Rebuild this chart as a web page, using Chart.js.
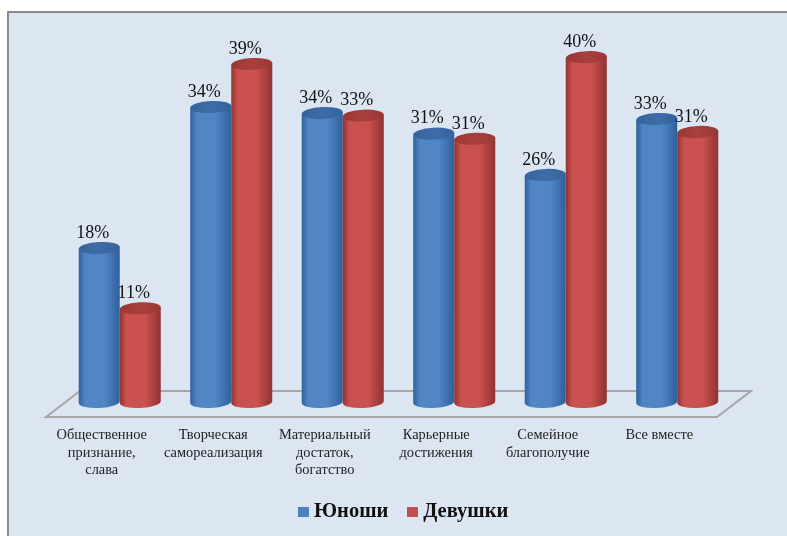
<!DOCTYPE html>
<html>
<head>
<meta charset="utf-8">
<style>
html, body { margin: 0; padding: 0; background: #fff; overflow: hidden; }
#wrap { position: relative; width: 787px; height: 536px; filter: blur(0.4px); }
#legend { position: absolute; left: 298px; top: 497px; height: 26px; white-space: nowrap;
    font: bold 20.5px/26px "Liberation Serif"; color: #111; }
#legend span { display: inline-block; }
#legend i { display: inline-block; width: 11px; height: 10px; margin-right: 5px; vertical-align: 0; }
#legend .item { margin-right: 19px; }
</style>
</head>
<body>
<div id="wrap">
    <canvas id="chart" width="787" height="536"></canvas>
    <div id="legend"></div>
</div>
<script src="https://cdn.jsdelivr.net/npm/chart.js@4"></script>
<script>
const categories = [
    ['Общественное', 'признание,', 'слава'],
    ['Творческая', 'самореализация'],
    ['Материальный', 'достаток,', 'богатство'],
    ['Карьерные', 'достижения'],
    ['Семейное', 'благополучие'],
    ['Все вместе']
];
// bar heights, the printed labels are rounded
const boys = [17.9, 34.3, 33.6, 31.2, 26.4, 32.9];
const girls = [10.9, 39.3, 33.3, 30.6, 40.1, 31.4];
const boysLabels = ['18%', '34%', '34%', '31%', '26%', '33%'];
const girlsLabels = ['11%', '39%', '33%', '31%', '40%', '31%'];
const seriesNames = ['Юноши', 'Девушки'];

const blue = { side: '#5086c6', dark: '#30609a', top: '#3d6da8', topDark: '#35639b', legend: '#4f81bd' };
const red = { side: '#ca514e', dark: '#8f3331', top: '#a9403d', topDark: '#983836', legend: '#c0504d' };

function cylinder(ctx, bar, c) {
    const w = bar.width, x0 = bar.x - w / 2, x1 = bar.x + w / 2;
    const rx = w / 2, ry = 6, tilt = -0.05;
    const dy = rx * Math.sin(tilt);
    const g = ctx.createLinearGradient(x0, 0, x1, 0);
    g.addColorStop(0, c.dark);
    g.addColorStop(0.16, c.side);
    g.addColorStop(0.62, c.side);
    g.addColorStop(1, c.dark);
    ctx.fillStyle = g;
    ctx.beginPath();
    ctx.moveTo(x0, bar.y - dy);
    ctx.lineTo(x0, bar.base - dy);
    ctx.ellipse(bar.x, bar.base, rx, ry, tilt, Math.PI, 0, true);
    ctx.lineTo(x1, bar.y + dy);
    ctx.closePath();
    ctx.fill();
    const t = ctx.createLinearGradient(x0, 0, x1, 0);
    t.addColorStop(0, c.topDark);
    t.addColorStop(0.5, c.top);
    t.addColorStop(1, c.topDark);
    ctx.fillStyle = t;
    ctx.beginPath();
    ctx.ellipse(bar.x, bar.y, rx, ry, tilt, 0, Math.PI * 2);
    ctx.fill();
}

const scenePlugin = {
    id: 'scene',
    beforeDraw(chart) {
        const ctx = chart.ctx;
        ctx.save();
        ctx.fillStyle = '#dce6f2';
        ctx.strokeStyle = '#8c8c8c';
        ctx.lineWidth = 2;
        ctx.fillRect(8, 12, 790, 540);
        ctx.strokeRect(8, 12, 790, 540);
        ctx.restore();
    },
    beforeDatasetsDraw(chart) {
        // floor of the 3d chart, placed from the scales
        const ctx = chart.ctx, area = chart.chartArea;
        const y0 = chart.scales.y.getPixelForValue(0);
        ctx.save();
        ctx.strokeStyle = '#a6a6a6';
        ctx.lineWidth = 2;
        ctx.beginPath();
        ctx.moveTo(area.left - 18, y0 + 15);
        ctx.lineTo(area.right - 16, y0 + 15);
        ctx.lineTo(area.right + 18, y0 - 11);
        ctx.lineTo(area.left + 16, y0 - 11);
        ctx.closePath();
        ctx.stroke();
        ctx.restore();
    },
    afterDatasetsDraw(chart) {
        const ctx = chart.ctx;
        chart.getSortedVisibleDatasetMetas().forEach(function (meta) {
            const c = meta.index === 0 ? blue : red;
            meta.data.forEach(function (bar) { cylinder(ctx, bar, c); });
        });
        chart.getSortedVisibleDatasetMetas().forEach(function (meta) {
            const texts = meta.index === 0 ? boysLabels : girlsLabels;
            meta.data.forEach(function (bar, i) {
                ctx.save();
                ctx.fillStyle = '#111';
                ctx.font = '18px "Liberation Serif"';
                ctx.textAlign = 'center';
                ctx.textBaseline = 'bottom';
                ctx.fillText(texts[i], bar.x - 6.5, bar.y - 6);
                ctx.restore();
            });
        });
    }
};

new Chart(document.getElementById('chart'), {
    type: 'bar',
    data: {
        labels: categories,
        datasets: [
            { label: seriesNames[0], data: boys, backgroundColor: 'rgba(0,0,0,0)', borderWidth: 0 },
            { label: seriesNames[1], data: girls, backgroundColor: 'rgba(0,0,0,0)', borderWidth: 0 }
        ]
    },
    options: {
        responsive: false,
        animation: false,
        layout: { padding: { left: 64, right: 54, top: 15, bottom: 50 } },
        datasets: { bar: { categoryPercentage: 0.736, barPercentage: 1 } },
        plugins: {
            tooltip: { enabled: false },
            legend: { display: false }
        },
        scales: {
            x: {
                grid: { display: false },
                border: { display: false },
                afterFit(scale) { scale.height = 84; },
                ticks: {
                    color: '#222',
                    maxRotation: 0,
                    autoSkip: false,
                    padding: 17,
                    labelOffset: -18,
                    font: { family: '"Liberation Serif"', size: 14.4 }
                }
            },
            y: {
                display: false,
                min: 0,
                max: 45
            }
        }
    },
    plugins: [scenePlugin]
});

document.getElementById('legend').innerHTML = seriesNames.map(function (name, i) {
    const color = i === 0 ? blue.legend : red.legend;
    return '<span class="item"><i style="background:' + color + '"></i>' + name + '</span>';
}).join('');
</script>
</body>
</html>
